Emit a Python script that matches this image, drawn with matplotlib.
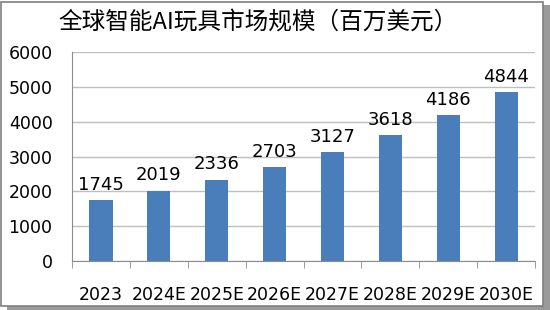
import matplotlib
matplotlib.use('Agg')
import matplotlib.pyplot as plt
from matplotlib.patches import Rectangle

plt.rcParams['font.family'] = ['Noto Sans CJK SC', 'DejaVu Sans']

# 数据
years = ['2023', '2024E', '2025E', '2026E', '2027E', '2028E', '2029E', '2030E']
values = [1745, 2019, 2336, 2703, 3127, 3618, 4186, 4844]
yticks = [0, 1000, 2000, 3000, 4000, 5000, 6000]

fig = plt.figure(figsize=(5.5, 3.1), dpi=100)
fig.patch.set_facecolor('white')

# 外框和阴影
fig.add_artist(Rectangle((0.012, 0.0), 0.988, 0.985, transform=fig.transFigure,
                         facecolor='#9a9a9a', edgecolor='none', zorder=-2))
fig.add_artist(Rectangle((0.002, 0.012), 0.985, 0.983, transform=fig.transFigure,
                         facecolor='white', edgecolor='#7f7f7f', linewidth=1.2, zorder=-1))

ax = fig.add_axes([0.131, 0.158, 0.842, 0.674])
ax.set_facecolor('none')
x = range(len(years))
bars = ax.bar(x, values, width=0.4, color='#4a7ebb', zorder=3)
for xi, v in zip(x, values):
    ax.text(xi, v + 180, str(v), ha='center', va='bottom', fontsize=13,
            family='DejaVu Sans', color='black')

ax.set_xlim(-0.5, len(years) - 0.5)
ax.set_ylim(0, 6000)
ax.set_yticks(yticks)
ax.set_yticklabels([str(t) for t in yticks], fontsize=12.5, family='DejaVu Sans')
ax.set_xticks(x)
ax.set_xticklabels(years, fontsize=12.5, family='DejaVu Sans')
ax.set_xticks([i - 0.5 for i in range(len(years) + 1)], minor=True)
ax.tick_params(axis='x', which='major', length=0, pad=18)
ax.tick_params(axis='x', which='minor', length=5, color='#8c8c8c')
ax.tick_params(axis='y', length=0, pad=14)
ax.grid(axis='y', color='#bfbfbf', linewidth=1, zorder=0)
for s in ['top', 'right']:
    ax.spines[s].set_visible(False)
ax.spines['left'].set_color('#8c8c8c')
ax.spines['bottom'].set_color('#8c8c8c')

fig.text(0.47, 0.93, '全球智能AI玩具市场规模（百万美元）', ha='center', va='center',
         fontsize=17, fontweight='medium')

plt.savefig('out.png', dpi=100)
